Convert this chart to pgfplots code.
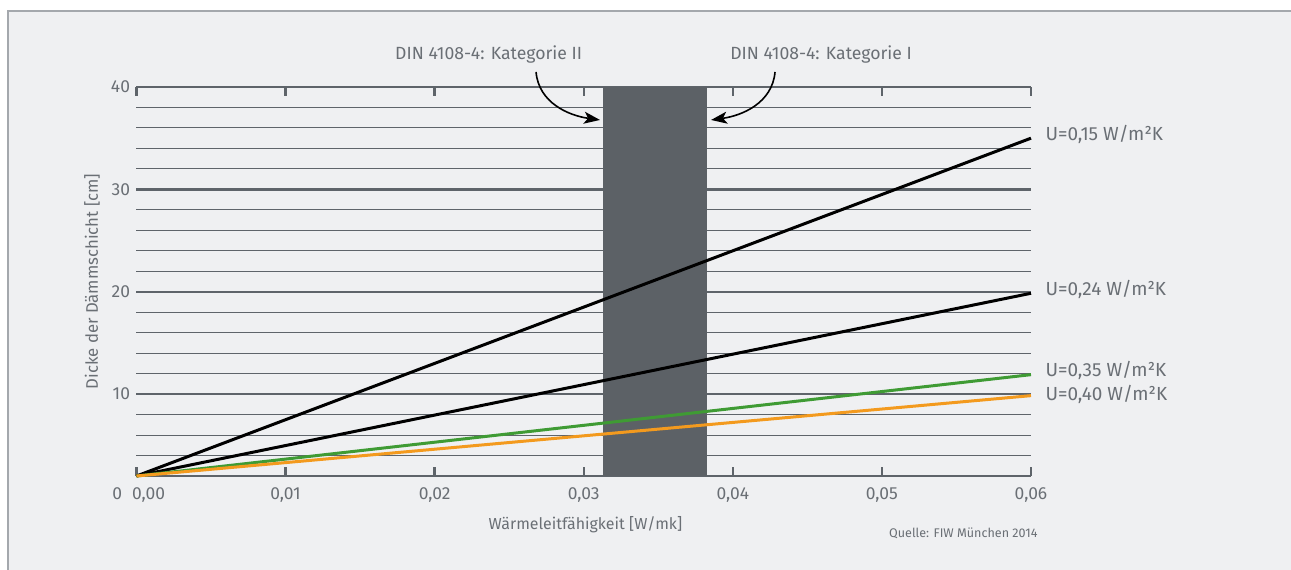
\documentclass[border=0pt]{standalone}
\usepackage{fontspec}
\setmainfont{Fira Sans}
\usepackage{pgfplots}
\pgfplotsset{compat=1.18}
\usetikzlibrary{arrows.meta}
\definecolor{bg}{HTML}{EFF0F2}
\definecolor{bordercol}{HTML}{A4A8AD}
\definecolor{gridcol}{HTML}{5E646A}
\definecolor{barcol}{HTML}{5C6166}
\definecolor{textcol}{HTML}{6A6F75}
\definecolor{ugreen}{HTML}{3F9B34}
\definecolor{uorange}{HTML}{F39A1E}
\begin{document}
\begin{tikzpicture}[font=\fontsize{17}{20}\selectfont]
\fill[white] (-136.5bp,-94bp) rectangle (1154.5bp,476bp);
\fill[bg] (-128.5bp,-94bp) rectangle (1154.5bp,465bp);
\draw[bordercol, line width=1.3bp] (-128.5bp,-94bp) -- (-128.5bp,465bp) -- (1154.5bp,465bp);
\begin{axis}[
  scale only axis, width=894.5bp, height=389bp,
  xmin=0, xmax=0.06, ymin=2, ymax=40,
  clip=false,
  scaled x ticks=false, scaled y ticks=false,
  separate axis lines,
  y axis line style={draw=none},
  x axis line style={gridcol, line width=2.4bp},
  xtick={0.01,0.02,0.03,0.04,0.05,0.06},
  xticklabels={{0{,}01},{0{,}02},{0{,}03},{0{,}04},{0{,}05},{0{,}06}},
  extra x ticks={0},
  extra x tick labels={{0{,}00}},
  extra x tick style={xticklabel style={xshift=12bp}},
  ytick={10,20,30,40},
  yticklabels={10,20,30,40},
  ytick pos=left,
  minor ytick={4,6,8,12,14,16,18,22,24,26,28,32,34,36,38},
  ymajorgrids, yminorgrids,
  major grid style={gridcol, line width=2.4bp},
  minor grid style={gridcol, line width=1.1bp},
  tick align=inside,
  major tick length=9bp,
  minor tick length=0pt,
  tick style={gridcol, line width=2.4bp},
  /pgf/number format/assume math mode=true,
  tick label style={textcol, font=\fontsize{17.5}{20}\selectfont},
  xticklabel style={yshift=-8bp},
  yticklabel style={xshift=-3bp},
]
\addplot[fill=barcol, draw=none] coordinates {(0.03129,2) (0.03129,40) (0.03827,40) (0.03827,2)} -- cycle;
\addplot[black, line width=3bp] coordinates {(0,2) (0.06,35)};
\addplot[black, line width=3bp] coordinates {(0,2) (0.06,19.85)};
\addplot[ugreen, line width=3bp] coordinates {(0,2) (0.06,11.9)};
\addplot[uorange, line width=3bp] coordinates {(0,2) (0.06,9.85)};

\node[anchor=east, textcol, font=\fontsize{17.5}{20}\selectfont] at (axis cs:0,0.3) [xshift=-11bp] {0};
\node[textcol, rotate=90, font=\fontsize{16.8}{20}\selectfont] at (rel axis cs:0,0.5) [yshift=44.5bp] {Dicke der Dämmschicht [cm]};
\node[textcol, font=\fontsize{16}{20}\selectfont] at (rel axis cs:0.502,0) [yshift=-49bp] {Wärmeleitfähigkeit [W/mk]};
\node[textcol, anchor=east, font=\fontsize{12.6}{15}\selectfont] at (rel axis cs:1,0) [xshift=10bp, yshift=-57bp] {Quelle: FIW München 2014};

\begin{scope}[every node/.style={textcol, anchor=west, font=\fontsize{19}{21}\selectfont, xshift=11bp, yshift=4bp}]
\node at (axis cs:0.06,35) {U=0,15 W/m²K};
\node at (axis cs:0.06,19.85) {U=0,24 W/m²K};
\node at (axis cs:0.06,11.9) {U=0,35 W/m²K};
\node at (axis cs:0.06,9.85) [yshift=-3bp] {U=0,40 W/m²K};
\end{scope}

\node[textcol, font=\fontsize{17.7}{20}\selectfont] at (axis cs:0.02362,43.13) {DIN 4108-4: Kategorie II};
\node[textcol, font=\fontsize{17.7}{20}\selectfont] at (axis cs:0.04592,43.13) {DIN 4108-4: Kategorie I};
\draw[black, line width=1.6bp, -{Stealth[length=16bp,width=12bp,inset=4bp]}] (axis cs:0.0268,41.47) to[out=-85,in=172] (axis cs:0.03109,36.78);
\draw[black, line width=1.6bp, -{Stealth[length=16bp,width=12bp,inset=4bp]}] (axis cs:0.04283,41.47) to[out=-95,in=8] (axis cs:0.03854,36.78);
\end{axis}
\pgfresetboundingbox
\path (-136.5bp,-94bp) rectangle (1154.5bp,476bp);
\end{tikzpicture}
\end{document}
